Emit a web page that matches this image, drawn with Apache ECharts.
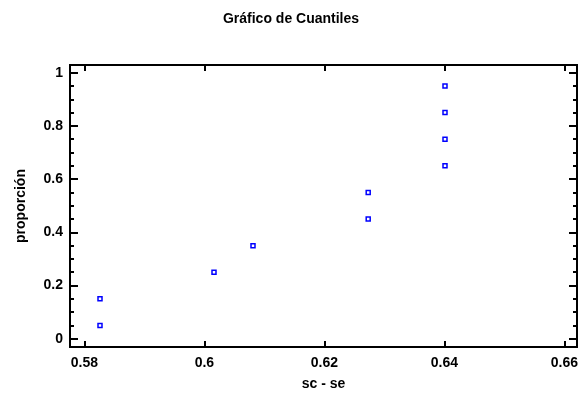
<!DOCTYPE html>
<html>
<head>
<meta charset="utf-8">
<script src="https://cdn.jsdelivr.net/npm/echarts@6/dist/echarts.min.js"></script>
<style>
  html, body { margin: 0; padding: 0; background: #fff; }
  #chart { width: 582px; height: 396px; }
</style>
</head>
<body>
<div id="chart"></div>
<script>
// valores
const scMinusSe = [0.5826, 0.5826, 0.6016, 0.6081, 0.6273, 0.6273, 0.6401, 0.6401, 0.6401, 0.6401];
const proporcion = [0.05, 0.15, 0.25, 0.35, 0.45, 0.55, 0.65, 0.75, 0.85, 0.95];
const xTicks = [0.58, 0.6, 0.62, 0.64, 0.66];
const yTicks = [0, 0.2, 0.4, 0.6, 0.8, 1];
const yMinorTicks = [0.05, 0.1, 0.15, 0.25, 0.3, 0.35, 0.45, 0.5, 0.55, 0.65, 0.7, 0.75, 0.85, 0.9, 0.95];

const font = 'Liberation Sans, Arial, sans-serif';
const xMin = 0.5776, xMax = 0.6621;
const yMin = -0.031, yMax = 1.029;
const axisLine = { show: true, onZero: false, lineStyle: { color: '#000', width: 2 } };

function xAxis(pos, labels) {
  return {
    type: 'value', position: pos, min: xMin, max: xMax,
    name: labels ? 'sc - se' : '', nameLocation: 'middle', nameGap: 30,
    nameTextStyle: { fontFamily: font, fontSize: 14, fontWeight: 'bold', color: '#000' },
    axisLine: axisLine,
    axisTick: { show: true, inside: true, length: 6, customValues: xTicks, lineStyle: { color: '#000', width: 2 } },
    axisLabel: { show: labels, customValues: xTicks, fontFamily: font, fontSize: 14, fontWeight: 'bold', color: '#000', margin: 9 },
    splitLine: { show: false }
  };
}
function yAxis(pos, ticks, len, labels) {
  return {
    type: 'value', position: pos, min: yMin, max: yMax,
    name: labels ? 'proporción' : '', nameLocation: 'middle', nameGap: 42,
    nameTextStyle: { fontFamily: font, fontSize: 14, fontWeight: 'bold', color: '#000' },
    axisLine: axisLine,
    axisTick: { show: true, inside: true, length: len, customValues: ticks, lineStyle: { color: '#000', width: 2 } },
    axisLabel: { show: labels, customValues: ticks, fontFamily: font, fontSize: 14, fontWeight: 'bold', color: '#000', margin: 7 },
    splitLine: { show: false }
  };
}

const chart = echarts.init(document.getElementById('chart'));
chart.setOption({
  animation: false,
  backgroundColor: '#fff',
  title: {
    text: 'Gráfico de Cuantiles', left: 'center', top: 7,
    textStyle: { fontFamily: font, fontSize: 14, fontWeight: 'bold', color: '#000' }
  },
  grid: { left: 70, right: 5, top: 65, bottom: 49 },
  xAxis: [xAxis('bottom', true), xAxis('top', false)],
  yAxis: [
    yAxis('left', yTicks, 8, true),
    yAxis('left', yMinorTicks, 4, false),
    yAxis('right', yTicks, 8, false),
    yAxis('right', yMinorTicks, 4, false)
  ],
  series: [{
    type: 'scatter',
    data: scMinusSe.map((x, i) => [x, proporcion[i]]),
    symbol: 'rect', symbolSize: 4,
    itemStyle: { color: '#fff', borderColor: '#0000ff', borderWidth: 1.5, opacity: 1 }
  }]
});
</script>
</body>
</html>
